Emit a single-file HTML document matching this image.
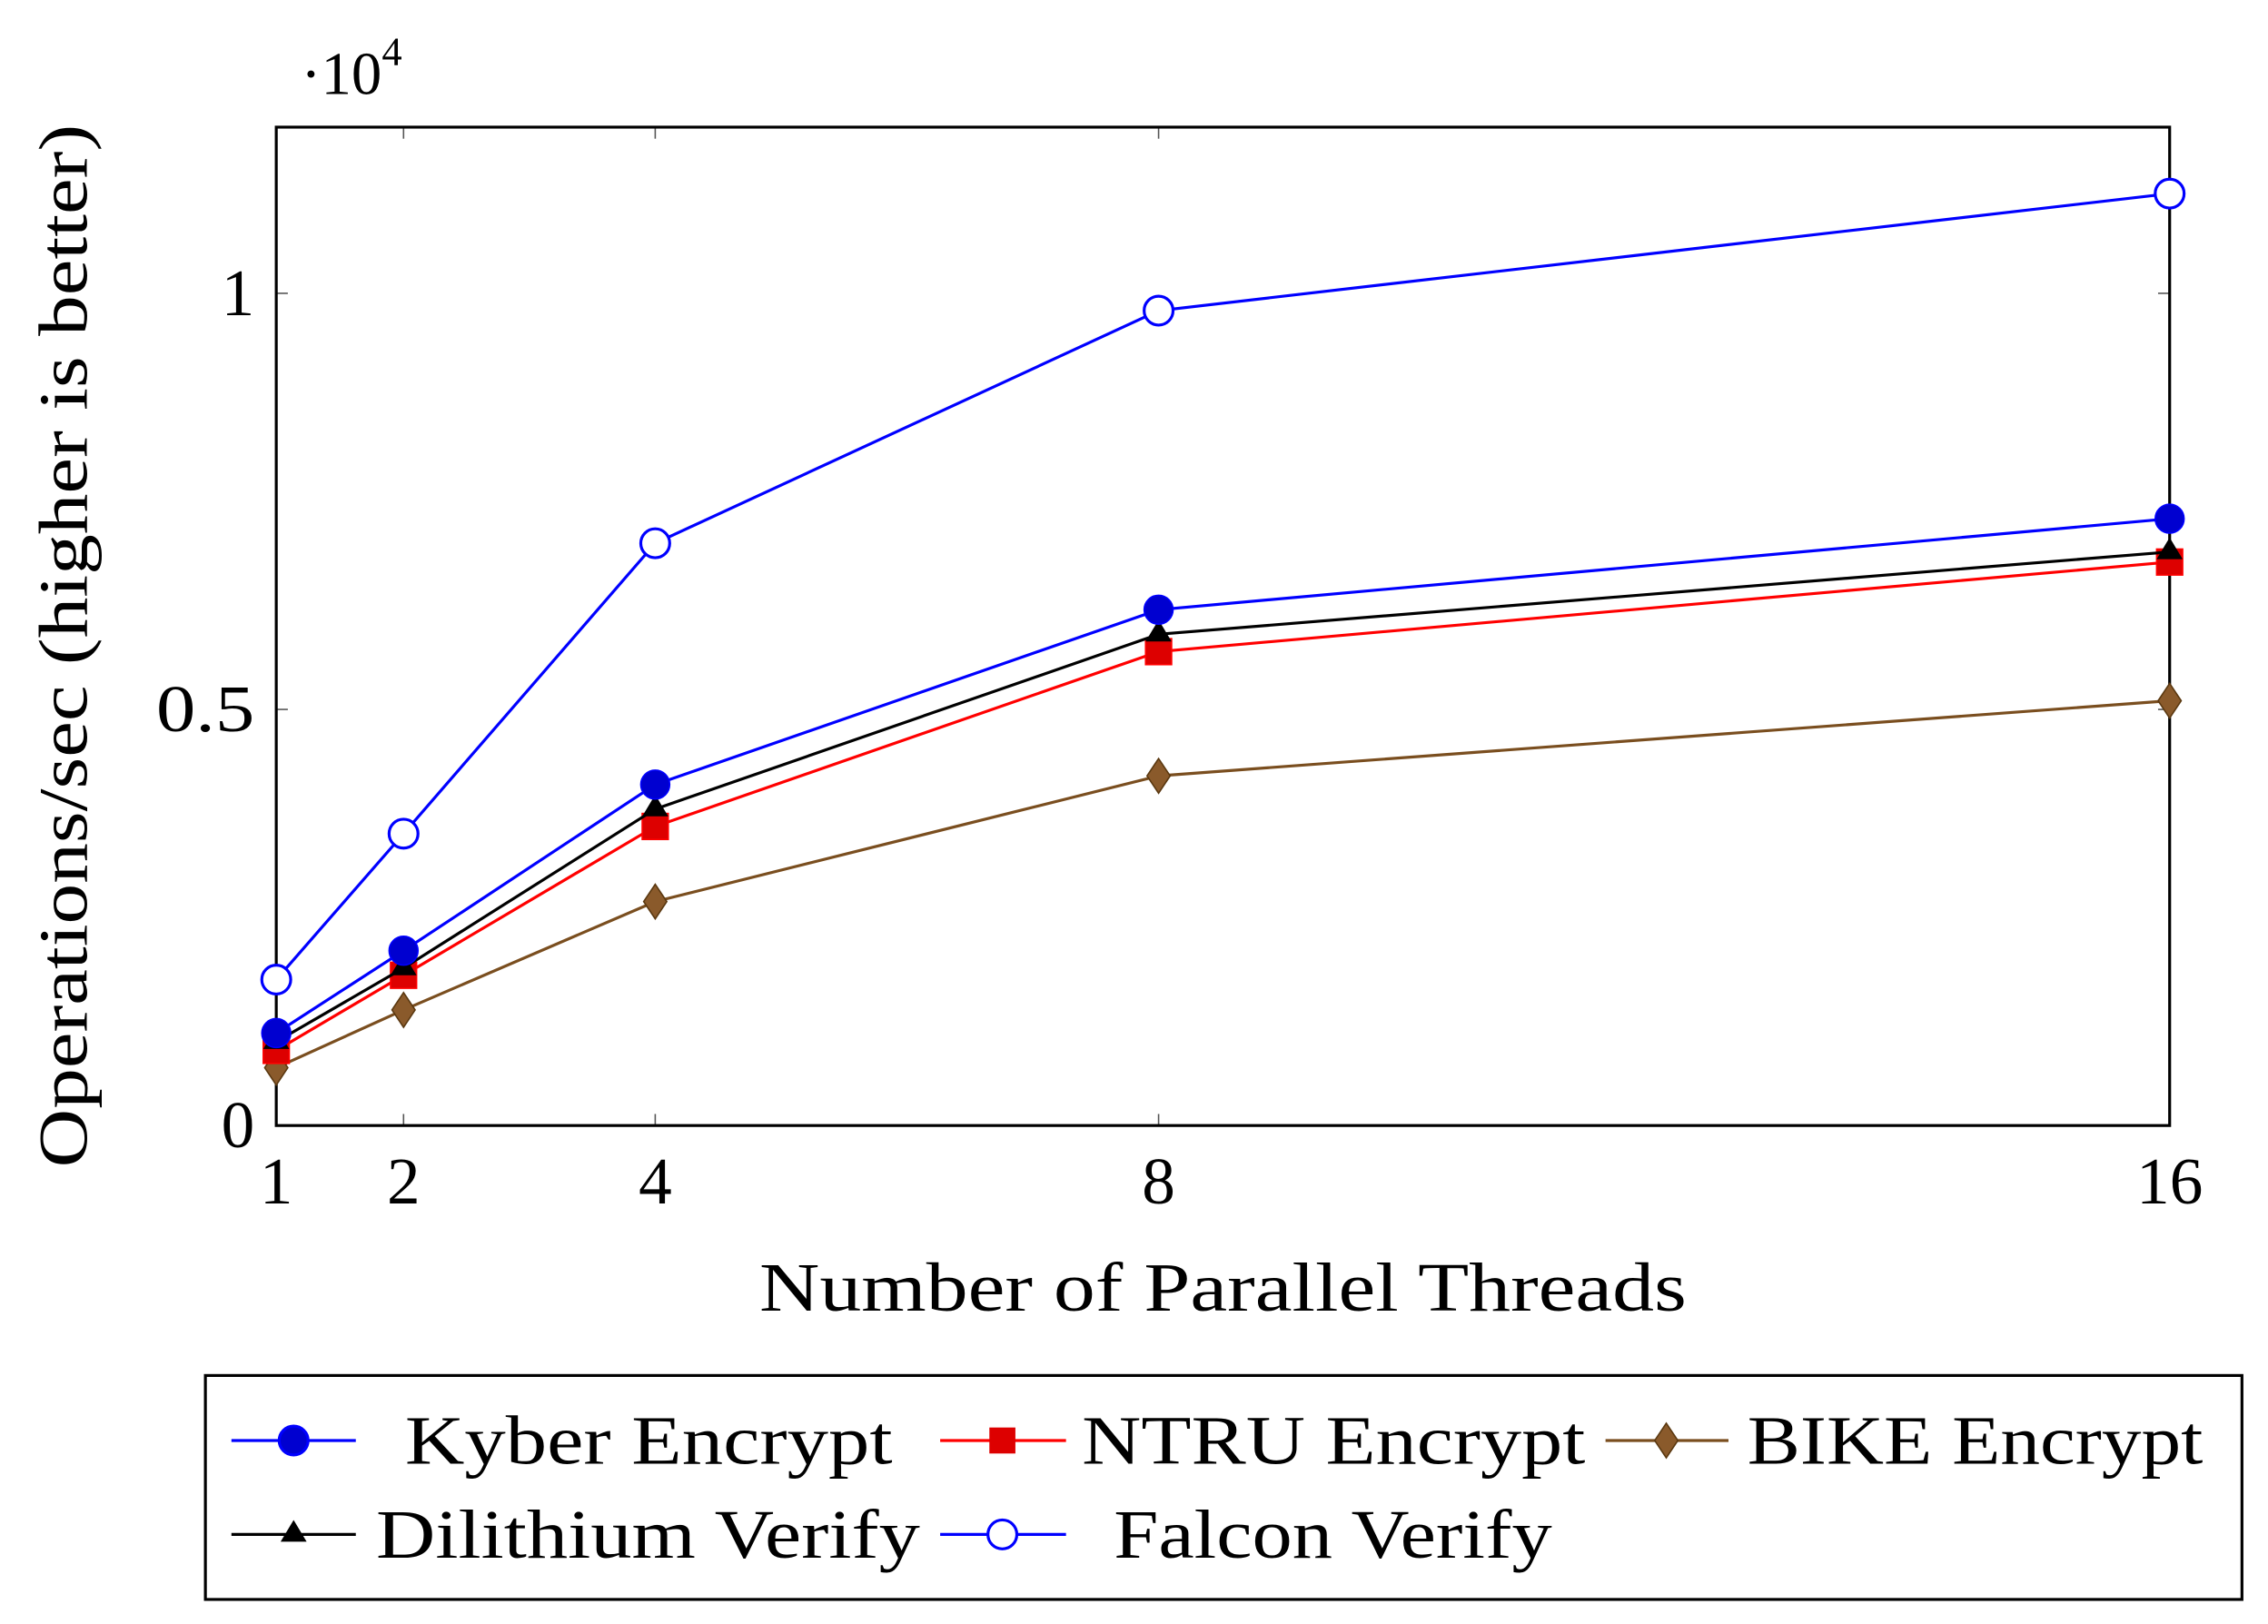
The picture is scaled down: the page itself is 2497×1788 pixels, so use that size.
<!DOCTYPE html>
<html><head><meta charset="utf-8"><style>html,body{margin:0;padding:0;background:#fff}svg{display:block}</style></head>
<body>
<svg width="2497" height="1788" viewBox="0 0 1568 1124" preserveAspectRatio="none" xmlns="http://www.w3.org/2000/svg" font-family="'Liberation Serif', serif">
<rect width="1568" height="1124" fill="#fff"/>
<g stroke="#555" stroke-width="1">
<line x1="279" y1="779" x2="279" y2="771"/><line x1="453" y1="779" x2="453" y2="771"/><line x1="801" y1="779" x2="801" y2="771"/>
<line x1="279" y1="88" x2="279" y2="96"/><line x1="453" y1="88" x2="453" y2="96"/><line x1="801" y1="88" x2="801" y2="96"/>
<line x1="191" y1="491" x2="199" y2="491"/><line x1="191" y1="203" x2="199" y2="203"/>
<line x1="1500" y1="491" x2="1492" y2="491"/><line x1="1500" y1="203" x2="1492" y2="203"/>
</g>
<rect x="191" y="88" width="1309" height="691" fill="none" stroke="#000" stroke-width="2"/>
<g font-size="46" text-anchor="middle">
<text x="191" y="833">1</text><text x="279" y="833">2</text><text x="453" y="833">4</text><text x="801" y="833">8</text><text x="1500" y="833">16</text>
</g>
<g font-size="46" text-anchor="end">
<text x="176" y="794">0</text><text x="176" y="506" textLength="68" lengthAdjust="spacingAndGlyphs">0.5</text><text x="176" y="218">1</text>
</g>
<text x="208" y="65" font-size="42">·10<tspan font-size="28" dy="-20">4</tspan></text>
<text x="525" y="907" font-size="48" textLength="641" lengthAdjust="spacingAndGlyphs">Number of Parallel Threads</text>
<text transform="translate(60,808) rotate(-90)" font-size="48" textLength="722" lengthAdjust="spacingAndGlyphs">Operations/sec (higher is better)</text>
<polyline fill="none" stroke="#7a4e1f" stroke-width="2" points="191,739 279,699 453,624 801,537 1500,485"/>
<g fill="#8a5a2b" stroke="#5a3810" stroke-width="1">
<path d="M191,727 l8,12 l-8,12 l-8,-12z"/><path d="M279,687 l8,12 l-8,12 l-8,-12z"/><path d="M453,612 l8,12 l-8,12 l-8,-12z"/><path d="M801,525 l8,12 l-8,12 l-8,-12z"/><path d="M1500,473 l8,12 l-8,12 l-8,-12z"/>
</g>
<polyline fill="none" stroke="#f00" stroke-width="2" points="191,727 279,675 453,572 801,451 1500,389"/>
<g fill="#d00" stroke="#f00" stroke-width="1">
<rect x="182" y="718" width="18" height="18"/><rect x="270" y="666" width="18" height="18"/><rect x="444" y="563" width="18" height="18"/><rect x="792" y="442" width="18" height="18"/><rect x="1491" y="380" width="18" height="18"/>
</g>
<polyline fill="none" stroke="#000" stroke-width="2" points="191,721 279,670 453,560 801,439 1500,382"/>
<g fill="#000">
<path d="M191,711 l9,15 h-18z"/><path d="M279,660 l9,15 h-18z"/><path d="M453,550 l9,15 h-18z"/><path d="M801,429 l9,15 h-18z"/><path d="M1500,372 l9,15 h-18z"/>
</g>
<polyline fill="none" stroke="#00f" stroke-width="2" points="191,715 279,658 453,543 801,422 1500,359"/>
<g fill="#0000d0" stroke="#00f">
<circle cx="191" cy="715" r="10"/><circle cx="279" cy="658" r="10"/><circle cx="453" cy="543" r="10"/><circle cx="801" cy="422" r="10"/><circle cx="1500" cy="359" r="10"/>
</g>
<polyline fill="none" stroke="#00f" stroke-width="2" points="191,678 279,577 453,376 801,215 1500,134"/>
<g fill="#fff" stroke="#00f" stroke-width="2">
<circle cx="191" cy="678" r="10"/><circle cx="279" cy="577" r="10"/><circle cx="453" cy="376" r="10"/><circle cx="801" cy="215" r="10"/><circle cx="1500" cy="134" r="10"/>
</g>
<rect x="142" y="952" width="1408" height="155" fill="#fff" stroke="#000" stroke-width="2"/>
<g stroke-width="2">
<line x1="160" y1="997" x2="246" y2="997" stroke="#00f"/><circle cx="203" cy="997" r="10" fill="#0000d0" stroke="#00f"/>
<line x1="650" y1="997" x2="737" y2="997" stroke="#f00"/><rect x="684" y="988" width="18" height="18" fill="#d00"/>
<line x1="1110" y1="997" x2="1195" y2="997" stroke="#7a4e1f"/><path d="M1152,985 l8,12 l-8,12 l-8,-12z" fill="#8a5a2b" stroke="#5a3810" stroke-width="1"/>
<line x1="160" y1="1062" x2="246" y2="1062" stroke="#000"/><path d="M203,1052 l9,15 h-18z" fill="#000"/>
<line x1="650" y1="1062" x2="737" y2="1062" stroke="#00f"/><circle cx="693" cy="1062" r="10" fill="#fff" stroke="#00f"/>
</g>
<g font-size="48">
<text x="280" y="1013" textLength="337" lengthAdjust="spacingAndGlyphs">Kyber Encrypt</text>
<text x="748" y="1013" textLength="348" lengthAdjust="spacingAndGlyphs">NTRU Encrypt</text>
<text x="1208" y="1013" textLength="315" lengthAdjust="spacingAndGlyphs">BIKE Encrypt</text>
<text x="260" y="1078" textLength="376" lengthAdjust="spacingAndGlyphs">Dilithium Verify</text>
<text x="770" y="1078" textLength="303" lengthAdjust="spacingAndGlyphs">Falcon Verify</text>
</g>
</svg>
</body></html>
